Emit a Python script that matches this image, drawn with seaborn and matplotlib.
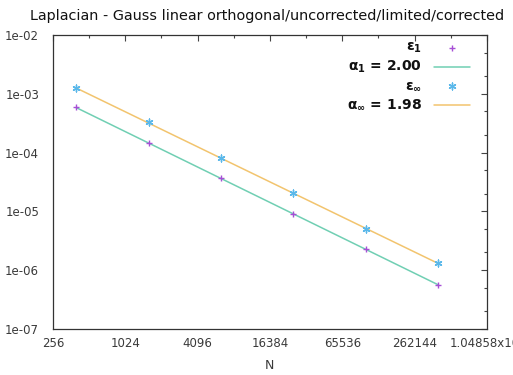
import numpy as np
import pandas as pd
import seaborn as sns
import matplotlib
matplotlib.use("Agg")
import matplotlib.pyplot as plt
from matplotlib.lines import Line2D
from matplotlib.ticker import FixedLocator, NullFormatter

# Convergence data: number of cells vs. error norms
n_cells = [400, 1600, 6400, 25600, 102400, 409600]
err_l1 = [5.89e-4, 1.44e-4, 3.66e-5, 9.03e-6, 2.30e-6, 5.60e-7]
err_linf = [1.24e-3, 3.27e-4, 8.19e-5, 2.03e-5, 5.02e-6, 1.31e-6]
alpha_l1 = 2.00
alpha_linf = 1.98

x_ticks = [256, 1024, 4096, 16384, 65536, 262144, 1048576]
x_tick_labels = ["256", "1024", "4096", "16384", "65536", "262144", "1.04858x10\u2076"]
y_ticks = [1e-7, 1e-6, 1e-5, 1e-4, 1e-3, 1e-2]
y_tick_labels = ["1e-07", "1e-06", "1e-05", "1e-04", "1e-03", "1e-02"]

c_pts1 = "#a64fd6"
c_fit1 = "#70cfb3"
c_pts2 = "#5ab8ea"
c_fit2 = "#f2c46e"


def fitted(n, err, alpha):
    # error ~ C * h^alpha with h = N^(-1/2); intercept by least squares
    ln = np.log10(np.asarray(n, float))
    le = np.log10(np.asarray(err, float))
    c = np.mean(le + 0.5 * alpha * ln)
    return 10 ** (c - 0.5 * alpha * ln)


df = pd.DataFrame({
    "N": n_cells,
    "e1": err_l1,
    "einf": err_linf,
    "fit1": fitted(n_cells, err_l1, alpha_l1),
    "fitinf": fitted(n_cells, err_linf, alpha_linf),
})

sns.set_theme(style="white")
plt.rcParams["font.family"] = ["DejaVu Sans"]

fig = plt.figure(figsize=(5.13, 3.75), dpi=100)
ax = fig.add_axes([0.1033, 0.1227, 0.8457, 0.784])

sns.lineplot(data=df, x="N", y="fit1", ax=ax, color=c_fit1, lw=1.1)
sns.lineplot(data=df, x="N", y="fitinf", ax=ax, color=c_fit2, lw=1.1)
ax.scatter(df["N"], df["e1"], marker="+", s=24, color=c_pts1, linewidths=1.0, zorder=3)
ax.scatter(df["N"], df["einf"], marker=(6, 2, 0), s=24, color=c_pts2, linewidths=1.0, zorder=3)

ax.set_xscale("log")
ax.set_yscale("log")
ax.set_xlim(256, 1048576)
ax.set_ylim(1e-7, 1e-2)

ax.xaxis.set_major_locator(FixedLocator(x_ticks))
ax.set_xticklabels(x_tick_labels)
ax.xaxis.set_minor_locator(FixedLocator([512 * 4 ** k for k in range(6)]))
ax.xaxis.set_minor_formatter(NullFormatter())
ax.yaxis.set_major_locator(FixedLocator(y_ticks))
ax.set_yticklabels(y_tick_labels)
ax.yaxis.set_minor_locator(FixedLocator([m * 10.0 ** e for e in range(-7, -2) for m in (2, 5)]))
ax.yaxis.set_minor_formatter(NullFormatter())

ax.tick_params(which="both", direction="in", top=True, right=True, colors="#444444",
               labelcolor="#3a3a3a", labelsize=8.5)
ax.tick_params(which="major", length=4, width=0.8, pad=6)
ax.tick_params(axis="y", which="major", pad=10)
ax.tick_params(which="minor", length=2, width=0.8)
for s in ax.spines.values():
    s.set_color("#333333")
    s.set_linewidth(0.9)

ax.set_xlabel("N", fontsize=9, color="#3a3a3a", labelpad=6)
ax.set_ylabel("")
ax.set_title("Laplacian - Gauss linear orthogonal/uncorrected/limited/corrected",
             fontsize=10.4, color="#111111", pad=11, x=0.493)

# Key in the upper right corner
entries = [
    ("$\\mathbf{\\varepsilon_{1}}$", "pt", c_pts1, "+"),
    ("$\\mathbf{\\alpha_{1}}$ = %.2f" % alpha_l1, "line", c_fit1, None),
    ("$\\mathbf{\\varepsilon_{\\infty}}$", "pt", c_pts2, (6, 2, 0)),
    ("$\\mathbf{\\alpha_{\\infty}}$ = %.2f" % alpha_linf, "line", c_fit2, None),
]
tx = 0.851
x0, x1 = 0.878, 0.962
y = 0.955
for label, kind, col, mk in entries:
    ax.text(tx, y, label, transform=ax.transAxes, ha="right", va="center",
            fontsize=10, fontweight="bold", color="#111111")
    if kind == "line":
        ax.add_line(Line2D([x0, x1], [y, y], transform=ax.transAxes, color=col, lw=1.1))
    else:
        ax.scatter([(x0 + x1) / 2], [y], transform=ax.transAxes, marker=mk, s=24,
                   color=col, linewidths=1.0, clip_on=False)
    y -= 0.064

fig.savefig("out.png", dpi=100)
